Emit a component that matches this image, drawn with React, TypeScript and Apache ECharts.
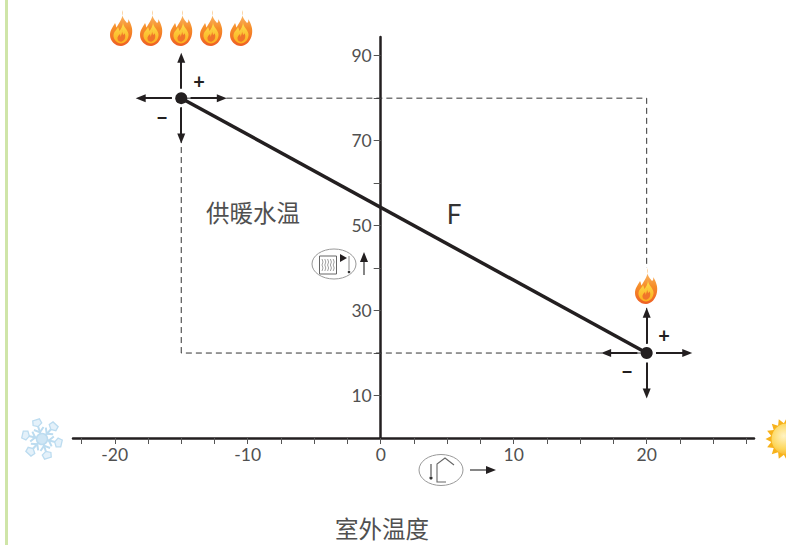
import React, { useEffect, useRef } from "react";
import * as echarts from "echarts";

const curvePoints = [[-15, 80], [20, 20]];
const guidePoints = [[-15, 20], [-15, 80], [20, 80], [20, 20], [-15, 20]];
const xTicks = [-22.5, -20, -17.5, -15, -12.5, -10, -7.5, -5, -2.5, 0, 2.5, 5, 7.5, 10, 12.5, 15, 17.5, 20, 22.5, 25, 27.5];
const xLabels = [-20, -10, 0, 10, 20];
const yTicks = [10, 20, 30, 40, 50, 60, 70, 80, 90];
const yLabels = [10, 30, 50, 70, 90];
const arrowGapX = 0.7;
const arrowGapY = 2.2;
const arrowReachX = 3.05;
const arrowReachY = 9.5;

const INK = "#231f20";
const TEXT = "#505050";
const CJK = '"Noto Sans CJK SC", sans-serif';
const LATIN = 'Lato, "Noto Sans", sans-serif';

const OUTER = "M12.5 0 C11 6 14 9 17 13 C18.5 12 18.5 10.5 18 9 C21 13 23 19 22 24 C21 31 16 36 11 36 C5 36 0 31 0 25 C0 20 3 17 5 13 C6 15 6 16 6.5 17.5 C9 13 14 7 12.5 0Z";
const MIDDLE = "M13 12 C13 17 17.5 19 18.5 24 C19 29 15 33.5 11 33.5 C7 33.5 3 29 3.5 25 C4 21 7 20 8 17 C9 19 9 20 9.5 21 C11 19 13 16 13 12Z";
const INNER = "M12 19 C11.5 22 13 23 13 25 C14 24.5 14.5 24 14.5 23 C16 26 15.5 30 12 31.5 C9 32.5 7 30 7.5 27.5 C8 26 9 25 10 24 C10.5 25 10.5 26 10.5 27 C11.5 25 12.5 22 12 19Z";
echarts.graphic.registerShape("flameOuter", echarts.graphic.extendPath(OUTER, {}));
echarts.graphic.registerShape("flameMiddle", echarts.graphic.extendPath(MIDDLE, {}));
echarts.graphic.registerShape("flameInner", echarts.graphic.extendPath(INNER, {}));

function flame(x: number, y: number) {
  const outerFill = new echarts.graphic.LinearGradient(0, 0, 0, 1, [
    { offset: 0, color: "#fbc27a" },
    { offset: 0.5, color: "#f68e2a" },
    { offset: 1, color: "#ee5f24" },
  ]);
  const midFill = new echarts.graphic.LinearGradient(0, 0, 0, 1, [
    { offset: 0, color: "#fde04f" },
    { offset: 1, color: "#fcae1e" },
  ]);
  return {
    type: "group",
    x,
    y,
    children: [
      { type: "rect", shape: { x: 0, y: 0, width: 22, height: 36 }, style: { fill: "#ffffff" }, z: 10 },
      { type: "flameOuter", style: { fill: outerFill }, z: 11 },
      { type: "flameMiddle", style: { fill: midFill }, z: 12 },
      { type: "flameInner", style: { fill: "#f0762a" }, z: 13 },
    ],
  };
}

function snowflake(cx: number, cy: number) {
  const stroke = { stroke: "#bcdcf0", lineWidth: 2, fill: "none" };
  const children: any[] = [];
  for (let i = 0; i < 6; i++) {
    children.push({
      type: "group",
      rotation: (i * Math.PI) / 3 + 0.3,
      children: [
        { type: "line", shape: { x1: 0, y1: 0, x2: 0, y2: -16 }, style: stroke },
        { type: "polyline", shape: { points: [[-5, -11], [0, -7], [5, -11]] }, style: stroke },
        { type: "polygon", shape: { points: [[0, -13], [-4.5, -15.5], [-3.5, -20], [3.5, -20], [4.5, -15.5]] }, style: { stroke: "#bcdcf0", lineWidth: 1.3, fill: "#e4f1fa" } },
      ],
    });
  }
  children.push({ type: "circle", shape: { r: 5.5 }, style: { fill: "#cfe6f5", stroke: "#bcdcf0", lineWidth: 1.5 } });
  return { type: "group", x: cx, y: cy, children };
}

function sun(cx: number, cy: number) {
  const points: number[][] = [];
  const spikes = 16;
  for (let i = 0; i < spikes * 2; i++) {
    const r = i % 2 === 0 ? 21.5 : 16;
    const a = (i * Math.PI) / spikes;
    points.push([r * Math.cos(a), r * Math.sin(a)]);
  }
  return {
    type: "group",
    x: cx,
    y: cy,
    children: [
      { type: "polygon", shape: { points }, style: { fill: "#f7b21b" } },
      {
        type: "circle",
        shape: { r: 15.5 },
        style: {
          fill: new echarts.graphic.RadialGradient(0.4, 0.4, 0.7, [
            { offset: 0, color: "#fff3c4" },
            { offset: 0.6, color: "#fdd75c" },
            { offset: 1, color: "#f6a91c" },
          ]),
        },
      },
    ],
  };
}

function label(text: string, x: number, y: number, size: number, family: string, color = TEXT, weight: any = "normal") {
  return {
    type: "text",
    x,
    y,
    style: { text, fontSize: size, fontFamily: family, fill: color, fontWeight: weight, align: "center", verticalAlign: "middle" },
  };
}

function plainArrow(x1: number, y1: number, x2: number, y2: number) {
  const a = Math.atan2(y2 - y1, x2 - x1);
  const len = 10;
  const w = 4;
  const bx = x2 - len * Math.cos(a);
  const by = y2 - len * Math.sin(a);
  return [
    { type: "line", shape: { x1, y1, x2: bx, y2: by }, style: { stroke: "#444", lineWidth: 1.3 } },
    {
      type: "polygon",
      shape: { points: [[x2, y2], [bx - w * Math.sin(a), by + w * Math.cos(a)], [bx + w * Math.sin(a), by - w * Math.cos(a)]] },
      style: { fill: INK },
    },
  ];
}

const thin = { stroke: "#666", lineWidth: 1, fill: "none" };

function radiatorIcon() {
  const waves: any[] = [];
  for (let i = 0; i < 5; i++) {
    const x = 322 + i * 2.8;
    waves.push({
      type: "polyline",
      shape: { points: [[x, 259], [x + 1, 262], [x, 265], [x + 1, 268], [x, 271]] },
      style: { stroke: "#888", lineWidth: 0.8, fill: "none" },
    });
  }
  return [
    { type: "ellipse", shape: { cx: 334, cy: 264, rx: 22, ry: 15 }, style: { stroke: "#999", lineWidth: 1, fill: "#fff" } },
    { type: "rect", shape: { x: 319.5, y: 256, width: 17, height: 18 }, style: thin },
    ...waves,
    { type: "polygon", shape: { points: [[340, 254], [347, 258], [340, 262]] }, style: { fill: INK } },
    { type: "line", shape: { x1: 349, y1: 256, x2: 349, y2: 270 }, style: { stroke: "#888", lineWidth: 1 } },
    { type: "circle", shape: { cx: 349, cy: 272, r: 1.3 }, style: { fill: "#333" } },
    ...plainArrow(364, 275, 364, 252),
  ];
}

function houseIcon() {
  return [
    { type: "ellipse", shape: { cx: 441, cy: 470, rx: 22, ry: 15.5 }, style: { stroke: "#999", lineWidth: 1, fill: "#fff" } },
    { type: "polyline", shape: { points: [[446, 482], [437, 482], [437, 464], [445, 458], [454, 465]] }, style: { stroke: "#666", lineWidth: 1.1, fill: "none" } },
    { type: "line", shape: { x1: 431, y1: 464, x2: 431, y2: 476 }, style: { stroke: "#999", lineWidth: 2 } },
    { type: "circle", shape: { cx: 431, cy: 478, r: 1.6 }, style: { fill: "#333" } },
    ...plainArrow(470, 470, 496, 470),
  ];
}

function adjustArrows(): any[] {
  const out: any[] = [];
  for (const [x, y] of curvePoints) {
    out.push([{ coord: [x + arrowGapX, y] }, { coord: [x + arrowReachX, y] }]);
    out.push([{ coord: [x - arrowGapX, y] }, { coord: [x - arrowReachX, y] }]);
    out.push([{ coord: [x, y + arrowGapY] }, { coord: [x, y + arrowReachY] }]);
    out.push([{ coord: [x, y - arrowGapY] }, { coord: [x, y - arrowReachY] }]);
  }
  return out;
}

export default function App() {
  const ref = useRef<HTMLDivElement>(null);
  useEffect(() => {
    document.body.style.margin = "0";
    const chart = echarts.init(ref.current!, null, { renderer: "svg" });
    chart.setOption({
      animation: false,
      backgroundColor: "#ffffff",
      grid: { left: 73, right: 32, top: 37, bottom: 107, containLabel: false },
      xAxis: {
        type: "value",
        min: -23.14,
        max: 28.07,
        splitLine: { show: false },
        axisLine: { onZero: true, lineStyle: { color: INK, width: 2.5 } },
        axisTick: { show: true, customValues: xTicks, length: 6, lineStyle: { color: "#555", width: 1 } },
        axisLabel: { customValues: xLabels, color: TEXT, fontSize: 17.5, fontFamily: LATIN, margin: 7, hideOverlap: false },
      },
      yAxis: {
        type: "value",
        min: 0,
        max: 94.4,
        offset: -307.7,
        splitLine: { show: false },
        axisLine: { onZero: false, lineStyle: { color: INK, width: 2.5 } },
        axisTick: { show: true, customValues: yTicks, length: 7, lineStyle: { color: "#555", width: 1 } },
        axisLabel: { customValues: yLabels, color: TEXT, fontSize: 17.5, fontFamily: LATIN, margin: 9, hideOverlap: false },
      },
      series: [
        {
          type: "line",
          name: "guide",
          data: guidePoints,
          symbol: "none",
          silent: true,
          z: 2,
          lineStyle: { color: "#333", width: 1, type: [6, 4] },
        },
        {
          type: "line",
          name: "arrows",
          data: [],
          z: 3,
          markLine: {
            silent: true,
            animation: false,
            symbol: ["none", "triangle"],
            symbolSize: [8, 10],
            label: { show: false },
            lineStyle: { color: INK, width: 2, type: "solid" },
            data: adjustArrows(),
          },
        },
        {
          type: "line",
          name: "F",
          data: curvePoints,
          symbol: "circle",
          symbolSize: 12,
          silent: true,
          z: 4,
          itemStyle: { color: INK },
          lineStyle: { color: INK, width: 3.5 },
        },
      ],
      graphic: {
        elements: [
          { type: "rect", shape: { x: 5, y: 0, width: 3, height: 545 }, style: { fill: "#cfe5a8" } },
          flame(110, 10),
          flame(140, 10),
          flame(170, 10),
          flame(200, 10),
          flame(230, 10),
          flame(635, 268),
          snowflake(42, 439),
          sun(787, 439),
          label("+", 199, 81, 20, LATIN, INK, "bold"),
          label("\u2212", 162, 117, 20, LATIN, INK, "bold"),
          label("+", 664, 335, 20, LATIN, INK, "bold"),
          label("\u2212", 627, 371, 20, LATIN, INK, "bold"),
          label("F", 454, 214, 26, LATIN, "#333"),
          label("供暖水温", 253, 212, 23.5, CJK),
          label("室外温度", 382, 528, 23.5, CJK),
          ...radiatorIcon(),
          ...houseIcon(),
        ],
      },
    });
    return () => chart.dispose();
  }, []);
  return <div ref={ref} style={{ width: 786, height: 545 }} />;
}
